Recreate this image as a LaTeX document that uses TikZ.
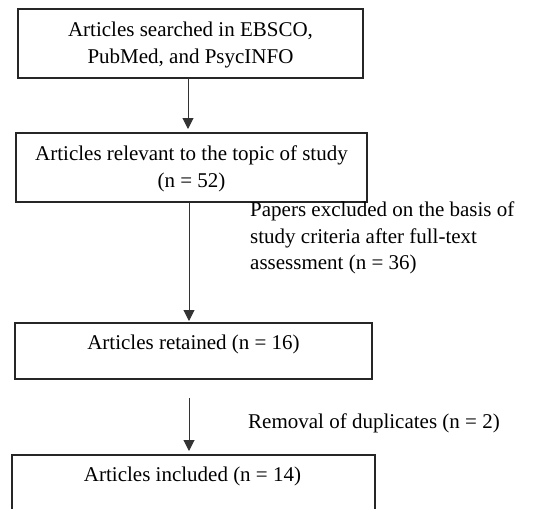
\documentclass[tikz,border=0pt]{standalone}
\usepackage{fontspec}
\setmainfont{Liberation Serif}
\usetikzlibrary{arrows.meta}
\begin{document}
\begin{tikzpicture}[x=1pt,y=1pt,
  box/.style={draw=black!85, line width=1.4pt, inner sep=0pt},
  txt/.style={font=\fontsize{21}{26.5}\selectfont, inner sep=0pt, align=center},
  lbl/.style={font=\fontsize{21}{26.5}\selectfont, inner sep=0pt, align=left, anchor=west},
  arr/.style={draw=black!80, line width=1pt, -{Triangle[width=11pt,length=11pt]}}]
\path[use as bounding box, clip] (0,0) rectangle (544,-509);
% boxes
\node[box, minimum width=345pt, minimum height=69pt] (b1) at (190.5,-43.5) {};
\node[box, minimum width=351pt, minimum height=69pt] (b2) at (191.5,-167.5) {};
\node[box, minimum width=357pt, minimum height=56pt] (b3) at (193.5,-351) {};
\node[box, minimum width=363pt, minimum height=100pt] (b4) at (193.5,-505) {};
% texts
\node[txt] (t1) at (190.5,-45) {Articles searched in EBSCO,\\PubMed, and PsycINFO};
\node[txt] (t2) at (191.5,-169) {Articles relevant to the topic of study\\(n = 52)};
\node[txt] (t3) at (193.5,-344) {Articles retained (n = 16)};
\node[txt] (t4) at (192.5,-476) {Articles included (n = 14)};
\node[lbl] (l1) at (250,-238) {Papers excluded on the basis of\\study criteria after full-text\\assessment (n = 36)};
\node[lbl] (l2) at (248,-423) {Removal of duplicates (n = 2)};
% connectors
\coordinate (a1s) at (188,-78);
\coordinate (a1e) at (188,-129);
\coordinate (a2s) at (189,-203);
\coordinate (a2e) at (189,-321);
\coordinate (a3s) at (189,-398);
\coordinate (a3e) at (189,-451);
\draw[arr] (a1s) -- (a1e);
\draw[arr] (a2s) -- (a2e);
\draw[arr] (a3s) -- (a3e);
\end{tikzpicture}
\end{document}
